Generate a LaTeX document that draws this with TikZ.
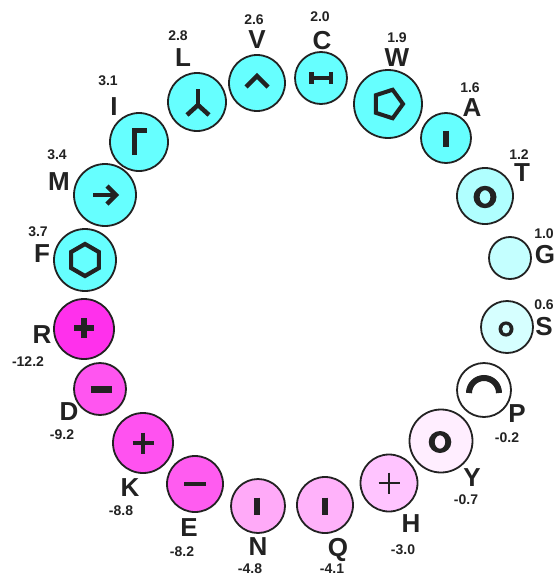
\documentclass[tikz,border=0pt]{standalone}
\usepackage{fontspec}
\setmainfont{Liberation Sans}
\definecolor{ink}{HTML}{222222}
\definecolor{cyA}{HTML}{66FFFF}
\definecolor{cyT}{HTML}{B0FFFF}
\definecolor{cyG}{HTML}{C4FFFF}
\definecolor{cyS}{HTML}{D6FFFF}
\definecolor{pkY}{HTML}{FFEEFF}
\definecolor{pkH}{HTML}{FFC4FF}
\definecolor{pkQ}{HTML}{FFB2FA}
\definecolor{pkN}{HTML}{FFAAF8}
\definecolor{mgE}{HTML}{FF5CF0}
\definecolor{mgK}{HTML}{FF52F0}
\definecolor{mgD}{HTML}{FF55F0}
\definecolor{mgR}{HTML}{FF30EC}
\tikzset{
  res/.style={circle, draw=ink, line width=1.8pt, inner sep=0pt, minimum size=#1},
  sym/.style={draw=ink, line width=4.5pt, line join=miter},
  ring/.style={fill=ink, even odd rule},
  aalab/.style={text=ink, inner sep=0pt, text depth=0pt, font=\fontsize{26}{26}\selectfont\bfseries},
  aaval/.style={text=ink, inner sep=0pt, text depth=0pt, font=\fontsize{14}{14}\selectfont\bfseries}
}
\begin{document}
\begin{tikzpicture}[x=1pt, y=-1pt]
\useasboundingbox (0,0) rectangle (555,578);
% circles
\node[res=52pt, fill=cyA] (C) at (321,78) {};
\node[res=56pt, fill=cyA] (V) at (257,83) {};
\node[res=58pt, fill=cyA] (L) at (197,102) {};
\node[res=68pt, fill=cyA] (W) at (388,104) {};
\node[res=58pt, fill=cyA] (I) at (139,142) {};
\node[res=62pt, fill=cyA] (M) at (105,195) {};
\node[res=62pt, fill=cyA] (F) at (85,260) {};
\node[res=50pt, fill=cyA] (A) at (446,138) {};
\node[res=56pt, fill=cyT] (T) at (485,196) {};
\node[res=42pt, fill=cyG] (G) at (510,258) {};
\node[res=52pt, fill=cyS] (S) at (507,327) {};
\node[res=54pt, fill=white] (P) at (484,390) {};
\node[res=63pt, fill=pkY] (Y) at (441,441) {};
\node[res=57pt, fill=pkH] (H) at (389,483) {};
\node[res=56pt, fill=pkQ] (Q) at (325,505) {};
\node[res=54pt, fill=pkN] (N) at (258,506) {};
\node[res=56pt, fill=mgE] (E) at (195,484) {};
\node[res=60pt, fill=mgK] (K) at (143,443) {};
\node[res=52pt, fill=mgD] (D) at (100,389) {};
\node[res=60pt, fill=mgR] (R) at (84,329) {};
% symbols
\begin{scope}[shift={(C.center)}]
  \draw[sym] (-10,0) -- (10,0);
  \draw[sym] (-9.75,-6) -- (-9.75,6);
  \draw[sym] (9.75,-6) -- (9.75,6);
\end{scope}
\begin{scope}[shift={(V.center)}]
  \draw[sym] (-11,4) -- (0,-7) -- (11,4);
\end{scope}
\begin{scope}[shift={(L.center)}]
  \draw[sym] (1,-13) -- (1,3);
  \draw[sym] (-10,13) -- (1,3) -- (12,13);
\end{scope}
\begin{scope}[shift={(W.center)}]
  \draw[sym, line width=4pt] (0:15) -- (72:15) -- (144:15) -- (216:15) -- (288:15) -- cycle;
\end{scope}
\begin{scope}[shift={(I.center)}]
  \draw[sym, line width=5pt] (-4.5,13) -- (-4.5,-11.5) -- (8,-11.5);
\end{scope}
\begin{scope}[shift={(M.center)}]
  \draw[sym] (-12,0) -- (10,0);
  \draw[sym] (2,-9) -- (11,0) -- (2,9);
\end{scope}
\begin{scope}[shift={(F.center)}]
  \draw[sym, line width=4.2pt] (90:16) -- (150:16) -- (210:16) -- (270:16) -- (330:16) -- (30:16) -- cycle;
\end{scope}
\begin{scope}[shift={(A.center)}]
  \draw[sym, line width=6pt] (0,-7.5) -- (0,8.5);
\end{scope}
\begin{scope}[shift={(T.center)}]
  \fill[ring] (0,1) ellipse [x radius=11.5, y radius=11.2] (0,1) ellipse [x radius=5.4, y radius=6.8];
\end{scope}
\begin{scope}[shift={(S.center)}]
  \fill[ring] (-1,2) ellipse [x radius=7.5, y radius=7.6] (-1,2) ellipse [x radius=3.9, y radius=4.6];
\end{scope}
\begin{scope}[shift={(P.center)}]
  \draw[sym, line width=6pt] (-15,3) arc [start angle=180, end angle=360, radius=15];
\end{scope}
\begin{scope}[shift={(Y.center)}]
  \fill[ring] (-1,1) ellipse [x radius=11.3, y radius=11] (-1,1) ellipse [x radius=5.3, y radius=6.7];
\end{scope}
\begin{scope}[shift={(H.center)}]
  \draw[sym, line width=1.5pt] (-10.5,0) -- (10.5,0);
  \draw[sym, line width=1.5pt] (0,-10.5) -- (0,10.5);
\end{scope}
\begin{scope}[shift={(Q.center)}]
  \draw[sym, line width=5.5pt] (0,-7.5) -- (0,9.5);
\end{scope}
\begin{scope}[shift={(N.center)}]
  \draw[sym, line width=5.5pt] (-1,-8.5) -- (-1,8.5);
\end{scope}
\begin{scope}[shift={(E.center)}]
  \draw[sym] (-11,0) -- (11,0);
\end{scope}
\begin{scope}[shift={(K.center)}]
  \draw[sym] (-10.5,0) -- (10.5,0);
  \draw[sym] (0,-10.5) -- (0,10.5);
\end{scope}
\begin{scope}[shift={(D.center)}]
  \draw[sym, line width=7pt] (-9.5,0) -- (11.5,0);
\end{scope}
\begin{scope}[shift={(R.center)}]
  \draw[sym, line width=6.5pt] (-10,-1) -- (10,-1);
  \draw[sym, line width=6.5pt] (0,-11) -- (0,9);
\end{scope}
% labels
\node[aalab] (Cl) at (322,40) {C};  \node[aaval] (Cv) at (320,17) {2.0};
\node[aalab] (Vl) at (257,40) {V};  \node[aaval] (Vv) at (254,20) {2.6};
\node[aalab] (Ll) at (183,58) {L};  \node[aaval] (Lv) at (178,36) {2.8};
\node[aalab] (Wl) at (397,58) {W};  \node[aaval] (Wv) at (397,38) {1.9};
\node[aalab] (Il) at (114,107) {I}; \node[aaval] (Iv) at (108,81) {3.1};
\node[aalab] (Ml) at (59,182) {M};  \node[aaval] (Mv) at (57,155) {3.4};
\node[aalab] (Fl) at (42,254) {F};  \node[aaval] (Fv) at (38,232) {3.7};
\node[aalab] (Al) at (472,108) {A}; \node[aaval] (Av) at (470,88) {1.6};
\node[aalab] (Tl) at (522,173) {T}; \node[aaval] (Tv) at (519,155) {1.2};
\node[aalab] (Gl) at (545,254) {G}; \node[aaval] (Gv) at (544,234) {1.0};
\node[aalab] (Sl) at (544,326) {S}; \node[aaval] (Sv) at (544,305) {0.6};
\node[aalab] (Pl) at (517,414) {P}; \node[aaval] (Pv) at (507,438) {-0.2};
\node[aalab] (Yl) at (472,478) {Y}; \node[aaval] (Yv) at (466,500) {-0.7};
\node[aalab] (Hl) at (411,524) {H}; \node[aaval] (Hv) at (403,550) {-3.0};
\node[aalab] (Ql) at (338,547) {Q}; \node[aaval] (Qv) at (332,569) {-4.1};
\node[aalab] (Nl) at (258,547) {N}; \node[aaval] (Nv) at (250,569) {-4.8};
\node[aalab] (El) at (189,528) {E}; \node[aaval] (Ev) at (182,552) {-8.2};
\node[aalab] (Kl) at (130,488) {K}; \node[aaval] (Kv) at (121,511) {-8.8};
\node[aalab] (Dl) at (69,412) {D};  \node[aaval] (Dv) at (62,435) {-9.2};
\node[aalab] (Rl) at (42,335) {R};  \node[aaval] (Rv) at (28,362) {-12.2};
\end{tikzpicture}
\end{document}
